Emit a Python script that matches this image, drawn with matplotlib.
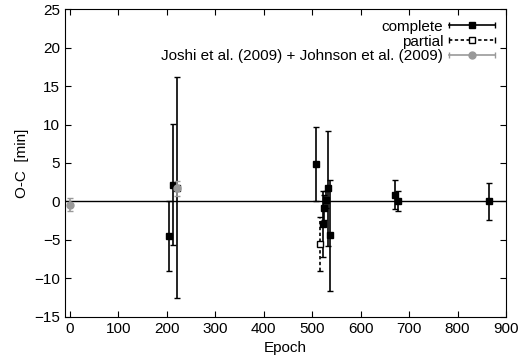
import numpy as np
import matplotlib.pyplot as plt
from matplotlib.lines import Line2D
from matplotlib.legend_handler import HandlerBase

plt.rcParams['font.family'] = ['Liberation Sans', 'DejaVu Sans']

# ---------------- data ----------------
# complete transits
ep_c = [204, 212, 220.6, 509, 522, 525, 528.6, 533, 537.6, 670, 677, 865]
oc_c = [-4.5, 2.2, 1.8, 4.9, -2.9, -0.8, 0.2, 1.7, -4.4, 0.9, 0.1, 0.0]
er_c = [4.5, 7.9, 14.4, 4.8, 4.3, 1.6, 1.1, 7.5, 7.2, 1.9, 1.3, 2.4]

# partial transits
ep_p = [516]
oc_p = [-5.5]
er_p = [3.5]

# literature
ep_l = [0, 222]
oc_l = [-0.4, 1.7]
er_l = [0.9, 1.0]


# gnuplot-like legend sample: horizontal bar with caps and marker in the middle
class HErr(HandlerBase):
    def __init__(self, color, marker, mfc, ls, ms):
        super().__init__()
        self.c, self.m, self.mfc, self.ls, self.ms = color, marker, mfc, ls, ms

    def create_artists(self, legend, orig_handle, xdescent, ydescent,
                       width, height, fontsize, trans):
        y = height / 2 - ydescent
        x0, x1 = -xdescent, width - xdescent
        line = Line2D([x0, x1], [y, y], color=self.c, ls=self.ls, lw=1.2)
        caps = Line2D([x0, x1], [y, y], ls='none', marker='|', ms=5,
                      mew=1.0, color=self.c)
        mk = Line2D([(x0 + x1) / 2], [y], ls='none', marker=self.m, ms=self.ms,
                    color=self.c, mfc=self.mfc)
        for a in (line, caps, mk):
            a.set_transform(trans)
        return [line, caps, mk]


# ---------------- plot ----------------
fig = plt.figure(figsize=(5.2, 3.63), dpi=100)
ax = fig.add_axes([0.125, 0.127, 0.848, 0.848])

ax.axhline(0, color='black', lw=1.0, zorder=1)

h1 = ax.errorbar(ep_c, oc_c, yerr=er_c, fmt='s', color='black', ms=4,
                 elinewidth=1.2, capsize=2.5, capthick=1.0, zorder=3)
h2 = ax.errorbar(ep_p, oc_p, yerr=er_p, fmt='s', color='black', mfc='white', ms=4,
                 elinewidth=1.2, capsize=2.5, capthick=1.0, zorder=3)
h2[2][0].set_linestyle((0, (2, 1.5)))
h3 = ax.errorbar(ep_l, oc_l, yerr=er_l, fmt='o', color='#999999', ms=5,
                 elinewidth=1.2, capsize=2.5, capthick=1.0, zorder=4)

ax.set_xlim(-10, 900)
ax.set_ylim(-15, 25)
ax.set_xticks(np.arange(0, 901, 100))
ax.set_yticks(np.arange(-15, 26, 5))
ax.tick_params(direction='in', top=True, right=True, labelsize=11, length=4)
ax.set_xlabel('Epoch', fontsize=11)
ax.set_ylabel('O-C  [min]', fontsize=11)

ax.legend([h1, h2, h3],
          ['complete', 'partial', 'Joshi et al. (2009) + Johnson et al. (2009)'],
          handler_map={h1: HErr('black', 's', 'black', '-', 4),
                       h2: HErr('black', 's', 'white', (0, (2, 1.5)), 4),
                       h3: HErr('#999999', 'o', '#999999', '-', 5)},
          loc='upper right', frameon=False, markerfirst=False, fontsize=11,
          handlelength=3.0, labelspacing=0.05, borderaxespad=0.3, handletextpad=0.4)

fig.savefig('out.png', dpi=100)
